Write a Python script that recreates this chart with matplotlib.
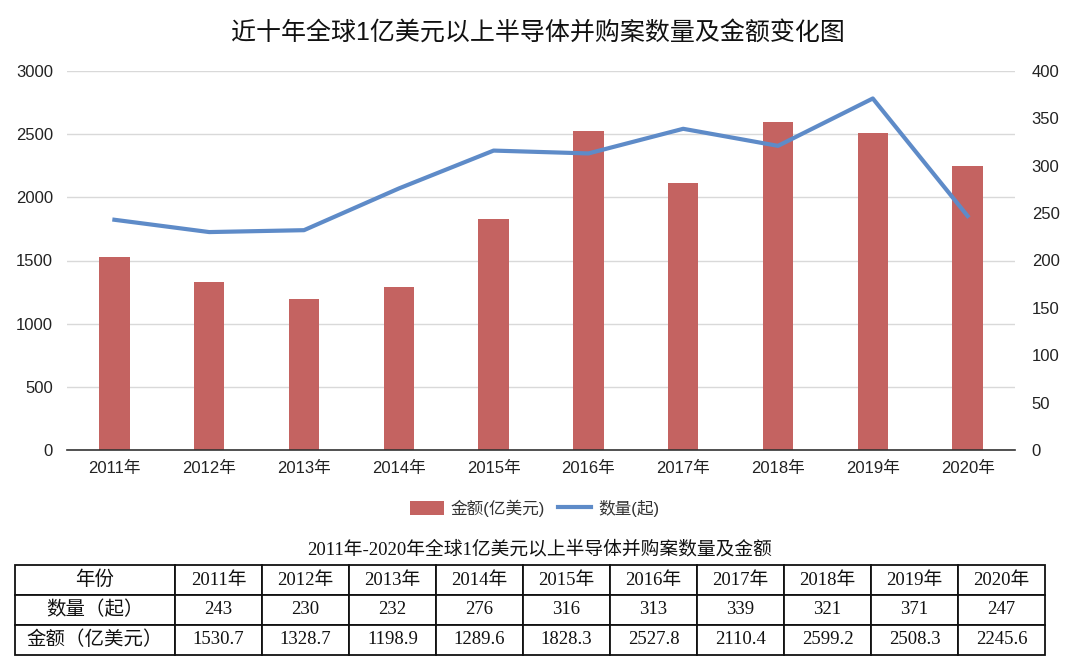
import matplotlib
matplotlib.use("Agg")
import matplotlib.pyplot as plt
from matplotlib.lines import Line2D
from matplotlib.patches import Patch

plt.rcParams['font.family'] = ['Liberation Sans', 'Noto Sans CJK SC', 'DejaVu Sans']

# ===== данные =====
years = ['2011年', '2012年', '2013年', '2014年', '2015年',
         '2016年', '2017年', '2018年', '2019年', '2020年']
counts = [243, 230, 232, 276, 316, 313, 339, 321, 371, 247]
amounts = [1530.7, 1328.7, 1198.9, 1289.6, 1828.3, 2527.8, 2110.4, 2599.2, 2508.3, 2245.6]
amount_labels = ['1530.7', '1328.7', '1198.9', '1289.6', '1828.3',
                 '2527.8', '2110.4', '2599.2', '2508.3', '2245.6']

BAR_C = '#C46361'
LINE_C = '#5E8BC8'
W, H = 1080, 669

fig = plt.figure(figsize=(W / 100, H / 100), dpi=100)

# основной график
ax = fig.add_axes([67 / W, 1 - 450 / H, (1015 - 67) / W, (450 - 71) / H])
x = list(range(len(years)))
ax.bar(x, amounts, width=0.32, color=BAR_C, zorder=2)
ax.set_xlim(-0.5, len(years) - 0.5)
ax.set_ylim(0, 3000)
ax.set_yticks(range(0, 3001, 500))
ax.set_xticks(x)
ax.set_xticklabels(years, fontsize=12)
ax.tick_params(axis='both', length=0, labelsize=12, colors='#222222')
ax.tick_params(axis='y', pad=10)
ax.tick_params(axis='x', pad=8)
ax.grid(axis='y', color='#d9d9d9', linewidth=1, zorder=0)
for s in ['top', 'right', 'left']:
    ax.spines[s].set_visible(False)
ax.spines['bottom'].set_color('#333333')
ax.spines['bottom'].set_linewidth(1.2)
ax.spines['bottom'].set_zorder(4)

ax2 = ax.twinx()
ax2.plot(x, counts, color=LINE_C, linewidth=3, zorder=3)
ax2.set_ylim(0, 400)
ax2.set_yticks(range(0, 401, 50))
ax2.tick_params(axis='y', length=0, labelsize=12, colors='#222222', pad=12)
for s in ['top', 'right', 'left', 'bottom']:
    ax2.spines[s].set_visible(False)

fig.text(538 / W, 1 - 33 / H, '近十年全球1亿美元以上半导体并购案数量及金额变化图',
         ha='center', va='center', fontsize=18, color='#111111')

handles = [Patch(facecolor=BAR_C, edgecolor='none'),
           Line2D([0], [0], color=LINE_C, linewidth=3)]
fig.legend(handles, ['金额(亿美元)', '数量(起)'], loc='center',
           bbox_to_anchor=(0.495, 1 - 508 / H), ncol=2, frameon=False,
           fontsize=12, handlelength=2.0, handleheight=0.9, handletextpad=0.4,
           columnspacing=0.8, labelcolor='#333333')

# таблица
serif = ['Liberation Serif', 'Noto Sans CJK SC']
fig.text(540 / W, 1 - 549 / H, '2011年-2020年全球1亿美元以上半导体并购案数量及金额',
         ha='center', va='center', fontsize=13.5, family=serif, color='#111111')

tax = fig.add_axes([15 / W, 1 - 655 / H, (1045 - 15) / W, (655 - 565) / H])
tax.axis('off')
cells = [['年份'] + years,
         ['数量（起）'] + [str(c) for c in counts],
         ['金额（亿美元）'] + amount_labels]
widths = [160] + [87] * len(years)
tot = sum(widths)
tbl = tax.table(cellText=cells, cellLoc='center', bbox=[0, 0, 1, 1],
                colWidths=[w / tot for w in widths])
tbl.auto_set_font_size(False)
for (r, c), cell in tbl.get_celld().items():
    cell.set_linewidth(1.3)
    cell.set_edgecolor('#111111')
    t = cell.get_text()
    t.set_fontsize(14 if c == 0 else 13.5)
    t.set_fontfamily(serif)
    t.set_color('#111111')

fig.savefig('out.png', dpi=100)
